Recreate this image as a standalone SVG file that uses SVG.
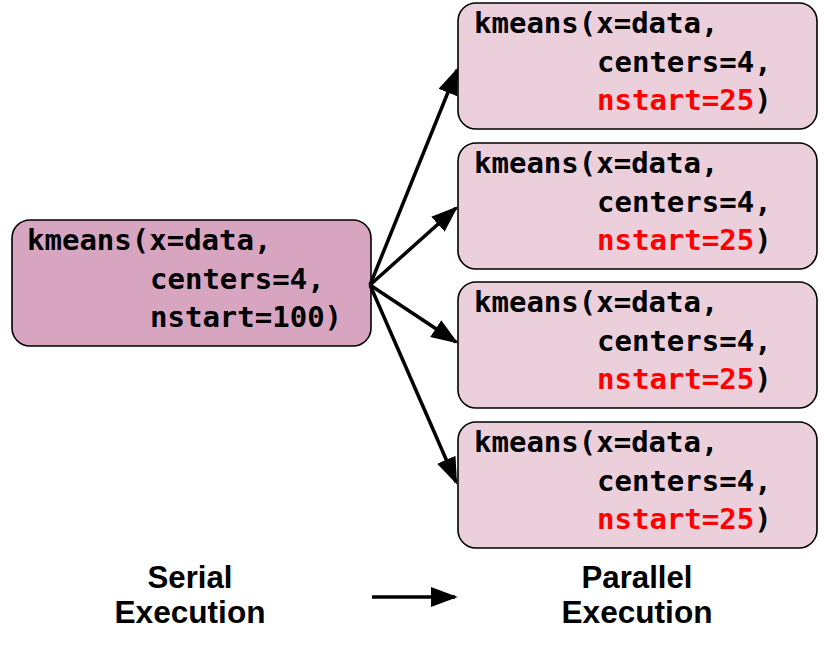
<svg xmlns="http://www.w3.org/2000/svg" width="828" height="647" viewBox="0 0 828 647">
<style>
.box{stroke:#000;stroke-width:1.6}
.serial{fill:#d7a5c0}
.par{fill:#ebcfdb}
.code{font-family:"DejaVu Sans Mono","Liberation Mono",monospace;font-weight:bold;font-size:29px;fill:#000}
.red{fill:#ff0000}
.lbl{font-family:"Liberation Sans",Arial,sans-serif;font-weight:bold;font-size:31px;fill:#000;text-anchor:middle}
.conn{stroke:#000;stroke-width:3.5;fill:none}
</style>
<defs>
<marker id="ah" viewBox="0 0 10 10" refX="9" refY="5" markerWidth="27" markerHeight="20" markerUnits="userSpaceOnUse" orient="auto" preserveAspectRatio="none">
<path d="M0,0 L10,5 L0,10 z" fill="#000"/>
</marker>
</defs>
<g id="serial-node">
<rect class="box serial" x="12" y="220" width="359" height="126" rx="18"/>
<text class="code" x="27" y="250">kmeans(x=data,</text>
<text class="code" x="150" y="289">centers=4,</text>
<text class="code" x="150" y="327">nstart=100)</text>
</g>
<g id="par-node-1">
<rect class="box par" x="458" y="3" width="359" height="126" rx="18"/>
<text class="code" x="474" y="33">kmeans(x=data,</text>
<text class="code" x="597" y="72">centers=4,</text>
<text class="code" x="597" y="110"><tspan class="red">nstart=25</tspan>)</text>
</g>
<g id="par-node-2">
<rect class="box par" x="458" y="143" width="359" height="126" rx="18"/>
<text class="code" x="474" y="173">kmeans(x=data,</text>
<text class="code" x="597" y="212">centers=4,</text>
<text class="code" x="597" y="250"><tspan class="red">nstart=25</tspan>)</text>
</g>
<g id="par-node-3">
<rect class="box par" x="458" y="282" width="359" height="126" rx="18"/>
<text class="code" x="474" y="312">kmeans(x=data,</text>
<text class="code" x="597" y="351">centers=4,</text>
<text class="code" x="597" y="389"><tspan class="red">nstart=25</tspan>)</text>
</g>
<g id="par-node-4">
<rect class="box par" x="458" y="422" width="359" height="126" rx="18"/>
<text class="code" x="474" y="452">kmeans(x=data,</text>
<text class="code" x="597" y="491">centers=4,</text>
<text class="code" x="597" y="529"><tspan class="red">nstart=25</tspan>)</text>
</g>
<g id="connectors">
<line class="conn" x1="370" y1="285" x2="457" y2="70" marker-end="url(#ah)"/>
<line class="conn" x1="370" y1="285" x2="456" y2="208" marker-end="url(#ah)"/>
<line class="conn" x1="370" y1="285" x2="456" y2="342" marker-end="url(#ah)"/>
<line class="conn" x1="370" y1="285" x2="456" y2="482" marker-end="url(#ah)"/>
<line class="conn" x1="372" y1="597" x2="455" y2="597" stroke-width="3" marker-end="url(#ah)"/>
</g>
<g id="labels">
<text class="lbl" x="190" y="588" textLength="85" lengthAdjust="spacingAndGlyphs">Serial</text>
<text class="lbl" x="190" y="623" textLength="151" lengthAdjust="spacingAndGlyphs">Execution</text>
<text class="lbl" x="637" y="588" textLength="111" lengthAdjust="spacingAndGlyphs">Parallel</text>
<text class="lbl" x="637" y="623" textLength="151" lengthAdjust="spacingAndGlyphs">Execution</text>
</g>
</svg>
